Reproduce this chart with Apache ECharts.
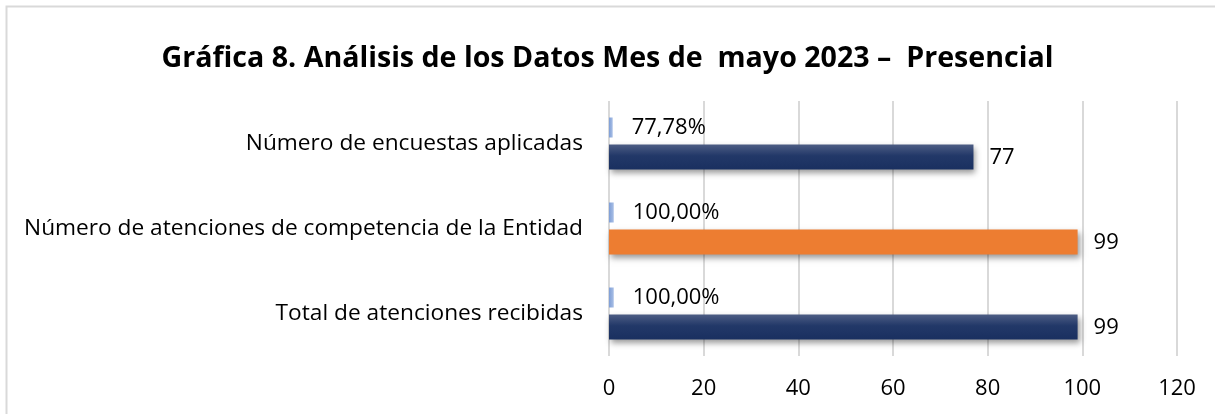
<!DOCTYPE html>
<html>
<head>
<meta charset="utf-8">
<script src="https://cdn.jsdelivr.net/npm/echarts@6/dist/echarts.min.js"></script>
<style>
html,body{margin:0;padding:0;background:#fff;}
#chart{width:1215px;height:414px;}
</style>
</head>
<body>
<div id="chart"></div>
<script>
const titleText = 'Gráfica 8. Análisis de los Datos Mes de  mayo 2023 –  Presencial';
const categories = ['Total de atenciones recibidas', 'Número de atenciones de competencia de la Entidad', 'Número de encuestas aplicadas'];
const pctValues = [1.0, 1.0, 0.7778];
const countValues = [99, 99, 77];
const xTicks = [0, 20, 40, 60, 80, 100, 120];

const navy = new echarts.graphic.LinearGradient(0, 0, 0, 1, [
  {offset: 0, color: '#4d5d84'},
  {offset: 0.45, color: '#223868'},
  {offset: 1, color: '#1a3060'}
]);
const lightBlue = new echarts.graphic.LinearGradient(0, 0, 1, 0, [
  {offset: 0, color: '#7e9ed6'},
  {offset: 1, color: '#a9bfe6'}
]);
const font = '"Open Sans", "Noto Sans", sans-serif';

const chart = echarts.init(document.getElementById('chart'));
chart.setOption({
  animation: false,
  backgroundColor: '#fff',
  title: {
    text: titleText,
    left: 'center',
    top: 39,
    textStyle: {fontFamily: font, fontSize: 28.6, fontWeight: 'bold', color: '#000'}
  },
  graphic: [{
    type: 'rect',
    shape: {x: 6.5, y: 6.5, width: 1400, height: 600},
    style: {fill: 'none', stroke: '#d9d9d9', lineWidth: 2},
    silent: true
  }],
  grid: {left: 609, right: 38, top: 101, bottom: 58, containLabel: false},
  xAxis: {
    type: 'value',
    min: 0, max: 120, interval: 20,
    axisLine: {show: false},
    axisTick: {show: false},
    splitLine: {show: true, lineStyle: {color: '#d9d9d9', width: 2}},
    axisLabel: {
      fontFamily: font, fontSize: 22, color: '#000', margin: 22,
      formatter: function (v) { return xTicks.indexOf(v) >= 0 ? String(v) : ''; }
    }
  },
  yAxis: {
    type: 'category',
    data: categories,
    axisLine: {show: false},
    axisTick: {show: false},
    axisLabel: {fontFamily: font, fontSize: 22.7, color: '#000', margin: 26}
  },
  series: [
    {
      name: 'Porcentaje',
      type: 'bar',
      data: pctValues,
      barWidth: 20,
      barGap: '35%',
      itemStyle: {color: lightBlue},
      label: {
        show: true, position: 'right', distance: 19,
        fontFamily: font, fontSize: 22, color: '#000', offset: [0, 0],
        formatter: function (p) { return (p.value * 100).toFixed(2).replace('.', ',') + '%'; }
      }
    },
    {
      name: 'Cantidad',
      type: 'bar',
      data: countValues.map(function (v, i) {
        return i === 1 ? {value: v, itemStyle: {color: '#ED7D31'}} : v;
      }),
      barWidth: 25,
      itemStyle: {
        color: navy,
        shadowColor: 'rgba(0,0,0,0.4)', shadowBlur: 6, shadowOffsetX: 2, shadowOffsetY: 3
      },
      label: {
        show: true, position: 'right', distance: 16,
        fontFamily: font, fontSize: 22, color: '#000', offset: [0, 1]
      }
    }
  ]
});
</script>
</body>
</html>
